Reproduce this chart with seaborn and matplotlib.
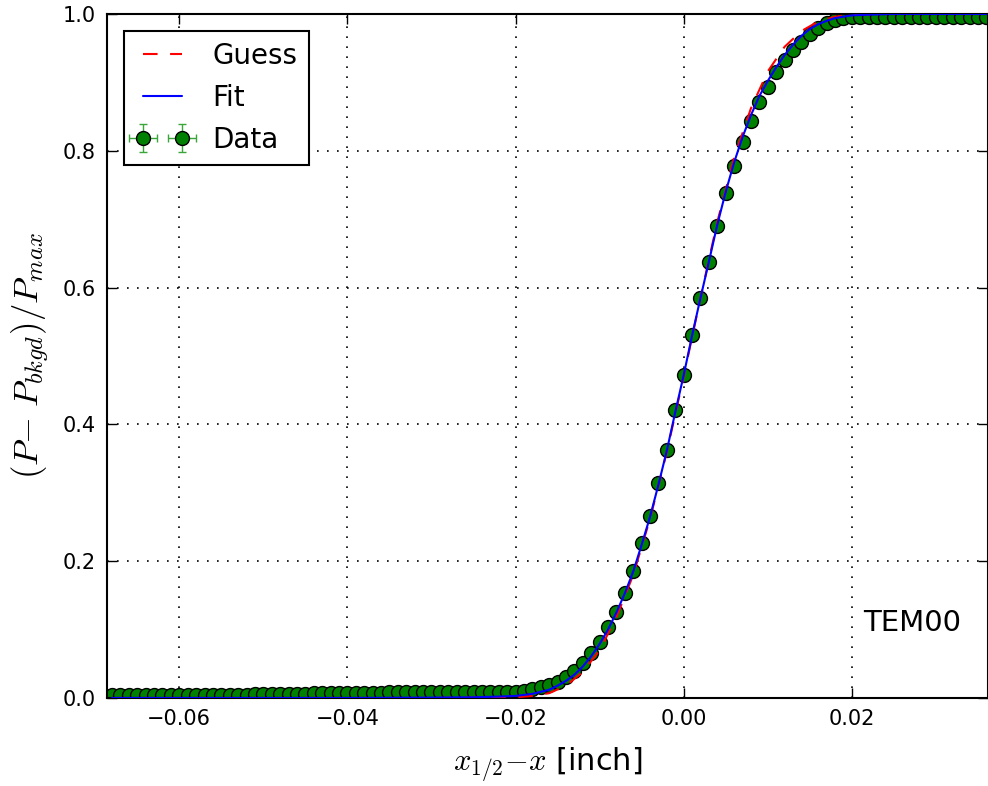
import numpy as np
import seaborn as sns
import matplotlib.pyplot as plt

# knife-edge scan, positions in thousandths of an inch
x_mil = [-68, -67, -66, -65, -64, -63, -62, -61, -60, -59, -58, -57, -56, -55,
         -54, -53, -52, -51, -50, -49, -48, -47, -46, -45, -44, -43, -42, -41,
         -40, -39, -38, -37, -36, -35, -34, -33, -32, -31, -30, -29, -28, -27,
         -26, -25, -24, -23, -22, -21, -20, -19, -18, -17, -16, -15, -14, -13,
         -12, -11, -10, -9, -8, -7, -6, -5, -4, -3, -2, -1, 0, 1, 2, 3, 4, 5,
         6, 7, 8, 9, 10, 11, 12, 13, 14, 15, 16, 17, 18, 19, 20, 21, 22, 23,
         24, 25, 26, 27, 28, 29, 30, 31, 32, 33, 34, 35, 36]
p_norm = [0.004, 0.004, 0.004, 0.004, 0.004, 0.004, 0.004, 0.004,
          0.004, 0.004, 0.005, 0.005, 0.005, 0.005, 0.005, 0.005, 0.005, 0.006,
          0.006, 0.006, 0.006, 0.006, 0.006, 0.006, 0.007, 0.007, 0.007, 0.007,
          0.007, 0.007, 0.007, 0.007, 0.007, 0.008, 0.008, 0.008, 0.008, 0.008,
          0.008, 0.008, 0.008, 0.008, 0.008, 0.008, 0.009, 0.009, 0.009,
          0.009, 0.009, 0.010, 0.013, 0.016, 0.019, 0.023, 0.031, 0.039, 0.051,
          0.066, 0.082, 0.104, 0.126, 0.154, 0.186, 0.227, 0.266, 0.314, 0.363,
          0.421, 0.472, 0.531, 0.585, 0.637, 0.690, 0.738, 0.778, 0.813, 0.844,
          0.871, 0.893, 0.915, 0.933, 0.947, 0.959, 0.971, 0.980, 0.987, 0.991,
          0.994,
          0.995, 0.995, 0.995, 0.995, 0.995, 0.996, 0.996, 0.996, 0.996, 0.996,
          0.996, 0.996, 0.996, 0.996, 0.996, 0.996, 0.996]
x_err = 0.0005
p_err = 0.008

fit_mil = [-68, -40, -30, -25, -22, -20, -18, -16, -15, -14, -13, -12, -11, -10,
           -9, -8, -7, -6, -5, -4, -3, -2, -1, 0, 1, 2, 3, 4, 5, 6, 7, 8, 9,
           10, 11, 12, 13, 14, 15, 16, 17, 18, 19, 20, 22, 25, 36]
fit_p = [0.000, 0.000, 0.0005, 0.001, 0.002, 0.003, 0.006, 0.012, 0.018, 0.025,
         0.034, 0.046, 0.061, 0.079, 0.100, 0.125, 0.153, 0.185, 0.224, 0.265,
         0.312, 0.362, 0.418, 0.472, 0.530, 0.585, 0.638, 0.692, 0.740, 0.783,
         0.820, 0.852, 0.880, 0.902, 0.922, 0.940, 0.955, 0.968, 0.978, 0.985,
         0.990, 0.994, 0.996, 0.998, 0.999, 1.000, 1.000]

guess_mil = [-68, -30, -20, -18, -16, -14, -12, -10, -8, -6, -4, -2, 0, 2, 4,
             6, 8, 10, 12, 14, 16, 18, 20, 24, 36]
guess_p = [0.000, 0.000, 0.001, 0.003, 0.007, 0.018, 0.038, 0.070, 0.118,
           0.180, 0.262, 0.360, 0.470, 0.585, 0.696, 0.790, 0.862, 0.916,
           0.952, 0.975, 0.989, 0.996, 0.999, 1.000, 1.000]

sns.set_style("ticks", {"axes.grid": True, "axes.edgecolor": "black",
                        "xtick.direction": "in", "ytick.direction": "in",
                        "xtick.top": True, "ytick.right": True,
                        "text.color": "black", "axes.labelcolor": "black",
                        "xtick.color": "black", "ytick.color": "black"})
plt.rcParams["mathtext.fontset"] = "cm"
plt.rcParams["font.family"] = ["DejaVu Sans"]

x_data = np.array(x_mil) / 1000
fig, ax = plt.subplots(figsize=(9.88, 7.86), dpi=100)
fig.subplots_adjust(left=0.1083, right=1.0, top=0.9822, bottom=0.112)

ax.errorbar(x_data, p_norm, xerr=x_err, yerr=p_err, fmt="o", color="green",
            ecolor="#3aa63a", mec="black", mew=1.0, ms=10, capsize=3,
            elinewidth=1, label="Data", zorder=2)
sns.lineplot(x=np.array(guess_mil) / 1000, y=guess_p, ax=ax, color="red",
             linestyle=(0, (7, 6)), linewidth=1.5, label="Guess", zorder=3)
sns.lineplot(x=np.array(fit_mil) / 1000, y=fit_p, ax=ax, color="blue",
             linewidth=1.5, label="Fit", zorder=4)

ax.set_xlim(-0.0686, 0.0362)
ax.set_ylim(0, 1.0)
ax.set_xticks([-0.06, -0.04, -0.02, 0.00, 0.02])
ax.set_yticks([0.0, 0.2, 0.4, 0.6, 0.8, 1.0])
ax.tick_params(labelsize=15, length=7, width=1, pad=8)
for s in ax.spines.values():
    s.set_linewidth(1.5)
ax.grid(True, linestyle=(0, (1, 5)), color="black", linewidth=1.2)

ax.set_xlabel(r"$x_{1/2}{-}x$ [inch]", fontsize=22, labelpad=12)
ax.set_ylabel(r"$(P{-}\ P_{bkgd})/P_{max}$", fontsize=25, labelpad=8)
ax.text(0.033, 0.11, "TEM00", fontsize=21, ha="right", va="center")

handles, labels = ax.get_legend_handles_labels()
order = [labels.index(n) for n in ["Guess", "Fit", "Data"]]
leg = ax.legend([handles[i] for i in order], [labels[i] for i in order],
                loc="upper left", numpoints=2, fancybox=False,
                edgecolor="black", framealpha=1, fontsize=20,
                borderaxespad=0.6)
leg.get_frame().set_linewidth(1.5)

fig.savefig("out.png", dpi=100)
